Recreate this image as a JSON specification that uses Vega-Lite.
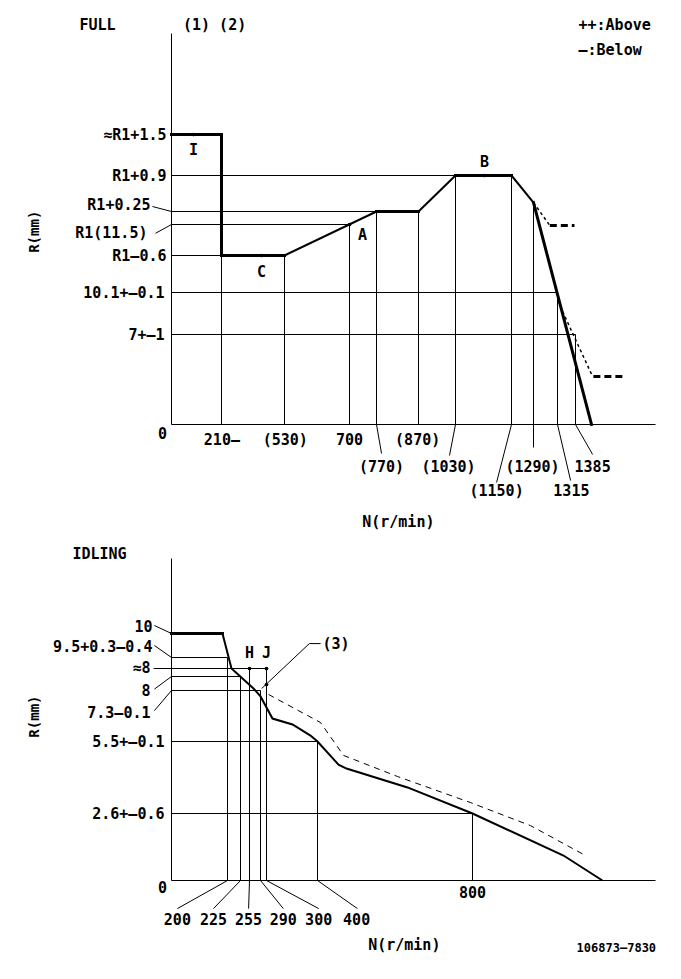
{
  "$schema": "https://vega.github.io/schema/vega-lite/v6.json",
  "width": 681,
  "height": 979,
  "padding": 0,
  "autosize": {"type": "none"},
  "background": "white",
  "config": {
    "view": {"stroke": null},
    "text": {"font": "DejaVu Sans Mono", "fontWeight": "bold", "fontSize": 15, "color": "black"},
    "rule": {"color": "black"},
    "line": {"color": "black"}
  },
  "datasets": {
    "full_rules": [
      {"n": 0, "r": 12.4, "n2": 1030, "r2": 12.4},
      {"n": 0, "r": 11.75, "n2": 770, "r2": 11.75},
      {"n": 0, "r": 11.5, "n2": 700, "r2": 11.5},
      {"n": 0, "r": 10.9, "n2": 210, "r2": 10.9},
      {"n": 0, "r": 10.1, "n2": 1315, "r2": 10.1},
      {"n": 0, "r": 7, "n2": 1385, "r2": 7},
      {"n": 210, "r": 13, "n2": 210, "r2": 0},
      {"n": 530, "r": 10.9, "n2": 530, "r2": 0},
      {"n": 700, "r": 11.5, "n2": 700, "r2": 0},
      {"n": 770, "r": 11.75, "n2": 770, "r2": 0},
      {"n": 870, "r": 11.75, "n2": 870, "r2": 0},
      {"n": 1030, "r": 12.4, "n2": 1030, "r2": 0},
      {"n": 1150, "r": 12.4, "n2": 1150, "r2": 0},
      {"n": 1290, "r": 11.91, "n2": 1290, "r2": -1.79},
      {"n": 1315, "r": 10.1, "n2": 1315, "r2": 0},
      {"n": 1385, "r": 7, "n2": 1385, "r2": 0},
      {"n": 0, "r": 14.5, "n2": 0, "r2": 0},
      {"n": 0, "r": 0, "n2": 1600, "r2": 0},
      {"n": 770, "r": 0, "n2": 782, "r2": -2.26},
      {"n": 1030, "r": 0, "n2": 1004, "r2": -2.41},
      {"n": 1150, "r": 0, "n2": 1118, "r2": -4.51},
      {"n": 1315, "r": 0, "n2": 1366, "r2": -4.36},
      {"n": 1385, "r": 0, "n2": 1431, "r2": -2.33},
      {"n": -80, "r": 11.84, "n2": 0, "r2": 11.75},
      {"n": -67, "r": 11.33, "n2": 0, "r2": 11.5}
    ],
    "full_thick": [
      {"n": 0, "r": 13, "n2": 210, "r2": 13},
      {"n": 210, "r": 13, "n2": 210, "r2": 10.9},
      {"n": 210, "r": 10.9, "n2": 530, "r2": 10.9},
      {"n": 770, "r": 11.75, "n2": 870, "r2": 11.75},
      {"n": 1030, "r": 12.4, "n2": 1150, "r2": 12.4},
      {"n": 1290, "r": 11.91, "n2": 1428, "r2": 0}
    ],
    "full_slope": [
      {"n": 530, "r": 10.9, "n2": 770, "r2": 11.75},
      {"n": 870, "r": 11.75, "n2": 1030, "r2": 12.4},
      {"n": 1150, "r": 12.4, "n2": 1290, "r2": 11.91}
    ],
    "full_dash_thin": [
      {"n": 1290, "r": 11.91, "n2": 1307, "r2": 11.48},
      {"n": 1315, "r": 9.51, "n2": 1431, "r2": 3.73}
    ],
    "full_dash_thick": [
      {"n": 1307, "r": 11.48, "n2": 1381, "r2": 11.48},
      {"n": 1433, "r": 3.73, "n2": 1519, "r2": 3.73}
    ],
    "full_points": [
      {"n": 92, "r": 13},
      {"n": 413, "r": 10.9},
      {"n": 700, "r": 11.5},
      {"n": 1092, "r": 12.4}
    ],
    "full_text_c": [
      {"n": 92, "r": 12.78, "label": "I"},
      {"n": 413, "r": 10.55, "label": "C"},
      {"n": 734, "r": 11.29, "label": "A"},
      {"n": 1092, "r": 12.6, "label": "B"},
      {"n": 181, "r": 14.63, "label": "(1) (2)"},
      {"n": -311, "r": 14.63, "label": "FULL"},
      {"n": 212, "r": -1.24, "label": "210—"},
      {"n": 532, "r": -1.24, "label": "(530)"},
      {"n": 700, "r": -1.24, "label": "700"},
      {"n": 868, "r": -1.24, "label": "(870)"},
      {"n": 782, "r": -3.34, "label": "(770)"},
      {"n": 1000, "r": -3.34, "label": "(1030)"},
      {"n": 1284, "r": -3.34, "label": "(1290)"},
      {"n": 1431, "r": -3.34, "label": "1385"},
      {"n": 1118, "r": -5.21, "label": "(1150)"},
      {"n": 1369, "r": -5.21, "label": "1315"},
      {"n": -38, "r": -0.7, "label": "0"},
      {"n": 822, "r": -7.62, "label": "N(r/min)"}
    ],
    "full_text_r": [
      {"n": -21, "r": 13, "label": "≈R1+1.5"},
      {"n": -21, "r": 12.4, "label": "R1+0.9"},
      {"n": -88, "r": 11.86, "label": "R1+0.25"},
      {"n": -101, "r": 11.33, "label": "R1(11.5)"},
      {"n": -21, "r": 10.9, "label": "R1—0.6"},
      {"n": -29, "r": 10.1, "label": "10.1+—0.1"},
      {"n": -29, "r": 7, "label": "7+—1"}
    ],
    "full_text_l": [
      {"n": 1393, "r": 14.62, "label": "++:Above"},
      {"n": 1393, "r": 14.25, "label": "—:Below"}
    ],
    "full_title": [
      {"n": -575, "r": 11.36, "label": "R(mm)"}
    ],
    "idle_rules": [
      {"n": 0, "r": 9.5, "n2": 200, "r2": 9.5},
      {"n": -64, "r": 8.2, "n2": 300, "r2": 8.2},
      {"n": 0, "r": 8, "n2": 225, "r2": 8},
      {"n": 0, "r": 7.3, "n2": 290, "r2": 7.3},
      {"n": 0, "r": 5.5, "n2": 400, "r2": 5.5},
      {"n": 0, "r": 2.6, "n2": 800, "r2": 2.6},
      {"n": 200, "r": 9.5, "n2": 200, "r2": 0},
      {"n": 225, "r": 8, "n2": 225, "r2": 0},
      {"n": 255, "r": 8.2, "n2": 255, "r2": 0},
      {"n": 290, "r": 7.3, "n2": 290, "r2": 0},
      {"n": 300, "r": 8.2, "n2": 300, "r2": 0},
      {"n": 400, "r": 5.5, "n2": 400, "r2": 0},
      {"n": 800, "r": 2.6, "n2": 800, "r2": 0},
      {"n": 0, "r": 11.5, "n2": 0, "r2": 0},
      {"n": 0, "r": 0, "n2": 1300, "r2": 0},
      {"n": -61, "r": 10.16, "n2": 0, "r2": 10},
      {"n": -61, "r": 9.75, "n2": 0, "r2": 9.5},
      {"n": -61, "r": 7.37, "n2": 0, "r2": 8},
      {"n": -61, "r": 6.59, "n2": 0, "r2": 7.3},
      {"n": 200, "r": 0, "n2": 21, "r2": -1.09},
      {"n": 225, "r": 0, "n2": 150, "r2": -1.09},
      {"n": 255, "r": 0, "n2": 252, "r2": -1.09},
      {"n": 290, "r": 0, "n2": 333, "r2": -1.09},
      {"n": 300, "r": 0, "n2": 403, "r2": -1.09},
      {"n": 400, "r": 0, "n2": 503, "r2": -1.09},
      {"n": 292, "r": 7.4, "n2": 384, "r2": 9.79},
      {"n": 384, "r": 9.79, "n2": 408, "r2": 9.79}
    ],
    "idle_thick": [
      {"n": 0, "r": 10, "n2": 182, "r2": 10}
    ],
    "idle_curve": [
      {"n": 0, "r": 10},
      {"n": 182, "r": 10},
      {"n": 207.7, "r": 8.2},
      {"n": 267.7, "r": 7.4},
      {"n": 290, "r": 7.09},
      {"n": 311.8, "r": 6.31},
      {"n": 351, "r": 6.1},
      {"n": 386.3, "r": 5.71},
      {"n": 400, "r": 5.5},
      {"n": 454.2, "r": 4.57},
      {"n": 474.8, "r": 4.41},
      {"n": 632.3, "r": 3.65},
      {"n": 800, "r": 2.6},
      {"n": 1048.6, "r": 0.97},
      {"n": 1155, "r": 0}
    ],
    "idle_dash": [
      {"n": 304, "r": 7.16},
      {"n": 407.7, "r": 6.17},
      {"n": 467.1, "r": 4.94},
      {"n": 606.5, "r": 4.09},
      {"n": 794.8, "r": 3.04},
      {"n": 958.5, "r": 2.13},
      {"n": 1108.7, "r": 0.97}
    ],
    "idle_points": [
      {"n": 255, "r": 8.2},
      {"n": 300, "r": 8.2},
      {"n": 300, "r": 7.6}
    ],
    "idle_text_c": [
      {"n": 255, "r": 9.6, "label": "H"},
      {"n": 300, "r": 9.6, "label": "J"},
      {"n": -257, "r": 11.6, "label": "IDLING"},
      {"n": 21, "r": -1.55, "label": "200"},
      {"n": 150, "r": -1.55, "label": "225"},
      {"n": 252, "r": -1.55, "label": "255"},
      {"n": 333, "r": -1.55, "label": "290"},
      {"n": 403, "r": -1.55, "label": "300"},
      {"n": 501, "r": -1.55, "label": "400"},
      {"n": 800, "r": -0.5, "label": "800"},
      {"n": -32, "r": -0.31, "label": "0"},
      {"n": 624, "r": -2.52, "label": "N(r/min)"}
    ],
    "idle_text_small": [
      {"n": 1193, "r": -2.6, "label": "106873—7830"}
    ],
    "idle_text_l": [
      {"n": 413, "r": 9.79, "label": "(3)"}
    ],
    "idle_text_r": [
      {"n": -68, "r": 10.14, "label": "10"},
      {"n": -68, "r": 9.71, "label": "9.5+0.3—0.4"},
      {"n": -75, "r": 8.26, "label": "≈8"},
      {"n": -75, "r": 7.265, "label": "8"},
      {"n": -75, "r": 6.49, "label": "7.3—0.1"},
      {"n": -25, "r": 5.5, "label": "5.5+—0.1"},
      {"n": -25, "r": 2.6, "label": "2.6+—0.6"}
    ],
    "idle_title": [
      {"n": -489, "r": 6.38, "label": "R(mm)"}
    ]
  },
  "layer": [
    {
      "encoding": {
        "x": {"field": "n", "type": "quantitative", "axis": null,
          "scale": {"domain": [0, 210, 530, 700, 770, 870, 1030, 1150, 1290, 1315, 1385, 1600],
                    "range": [171.5, 221.5, 284.5, 349.5, 376.5, 418.5, 455.5, 511.5, 533.5, 557.5, 575.5, 655.5],
                    "nice": false, "zero": false}},
        "y": {"field": "r", "type": "quantitative", "axis": null,
          "scale": {"domain": [0, 7, 10.1, 10.9, 11.5, 11.75, 12.4, 13, 14.5],
                    "range": [424.5, 334.5, 292.5, 255.5, 224.5, 211.5, 175.5, 134.5, 33.5],
                    "nice": false, "zero": false}}
      },
      "layer": [
        {"data": {"name": "full_rules"}, "mark": {"type": "rule", "strokeWidth": 1},
         "encoding": {"x2": {"field": "n2"}, "y2": {"field": "r2"}}},
        {"data": {"name": "full_slope"}, "mark": {"type": "rule", "strokeWidth": 2},
         "encoding": {"x2": {"field": "n2"}, "y2": {"field": "r2"}}},
        {"data": {"name": "full_thick"}, "mark": {"type": "rule", "strokeWidth": 3, "strokeCap": "square"},
         "encoding": {"x2": {"field": "n2"}, "y2": {"field": "r2"}}},
        {"data": {"name": "full_dash_thin"}, "mark": {"type": "rule", "strokeWidth": 1.5, "strokeDash": [3, 3]},
         "encoding": {"x2": {"field": "n2"}, "y2": {"field": "r2"}}},
        {"data": {"name": "full_dash_thick"}, "mark": {"type": "rule", "strokeWidth": 3, "strokeDash": [7, 4]},
         "encoding": {"x2": {"field": "n2"}, "y2": {"field": "r2"}}},
        {"data": {"name": "full_points"}, "mark": {"type": "circle", "size": 14, "color": "black", "opacity": 1}},
        {"data": {"name": "full_text_c"}, "mark": {"type": "text", "align": "center", "baseline": "middle"},
         "encoding": {"text": {"field": "label"}}},
        {"data": {"name": "full_text_r"}, "mark": {"type": "text", "align": "right", "baseline": "middle"},
         "encoding": {"text": {"field": "label"}}},
        {"data": {"name": "full_text_l"}, "mark": {"type": "text", "align": "left", "baseline": "middle"},
         "encoding": {"text": {"field": "label"}}},
        {"data": {"name": "full_title"}, "mark": {"type": "text", "align": "center", "baseline": "middle", "angle": 270, "fontSize": 14},
         "encoding": {"text": {"field": "label"}}}
      ]
    },
    {
      "encoding": {
        "x": {"field": "n", "type": "quantitative", "axis": null,
          "scale": {"domain": [0, 200, 225, 255, 290, 300, 400, 800, 1300],
                    "range": [171.5, 227.5, 240.5, 249.5, 260.5, 266.5, 317.5, 472.5, 655.5],
                    "nice": false, "zero": false}},
        "y": {"field": "r", "type": "quantitative", "axis": null,
          "scale": {"domain": [0, 2.6, 5.5, 7.3, 8, 8.2, 9.5, 10, 11.5],
                    "range": [880.5, 813.5, 741.5, 690.5, 676.5, 668.5, 657.5, 633.5, 558.5],
                    "nice": false, "zero": false}}
      },
      "layer": [
        {"data": {"name": "idle_rules"}, "mark": {"type": "rule", "strokeWidth": 1},
         "encoding": {"x2": {"field": "n2"}, "y2": {"field": "r2"}}},
        {"data": {"name": "idle_curve"}, "mark": {"type": "line", "strokeWidth": 2, "color": "black"}},
        {"data": {"name": "idle_thick"}, "mark": {"type": "rule", "strokeWidth": 3, "strokeCap": "square"},
         "encoding": {"x2": {"field": "n2"}, "y2": {"field": "r2"}}},
        {"data": {"name": "idle_dash"}, "mark": {"type": "line", "strokeWidth": 1, "strokeDash": [6, 5], "color": "black"}},
        {"data": {"name": "idle_points"}, "mark": {"type": "circle", "size": 14, "color": "black", "opacity": 1}},
        {"data": {"name": "idle_text_c"}, "mark": {"type": "text", "align": "center", "baseline": "middle"},
         "encoding": {"text": {"field": "label"}}},
        {"data": {"name": "idle_text_small"}, "mark": {"type": "text", "align": "center", "baseline": "middle", "fontSize": 12},
         "encoding": {"text": {"field": "label"}}},
        {"data": {"name": "idle_text_l"}, "mark": {"type": "text", "align": "left", "baseline": "middle"},
         "encoding": {"text": {"field": "label"}}},
        {"data": {"name": "idle_text_r"}, "mark": {"type": "text", "align": "right", "baseline": "middle"},
         "encoding": {"text": {"field": "label"}}},
        {"data": {"name": "idle_title"}, "mark": {"type": "text", "align": "center", "baseline": "middle", "angle": 270, "fontSize": 14},
         "encoding": {"text": {"field": "label"}}}
      ]
    }
  ],
  "resolve": {"scale": {"x": "independent", "y": "independent"}}
}
